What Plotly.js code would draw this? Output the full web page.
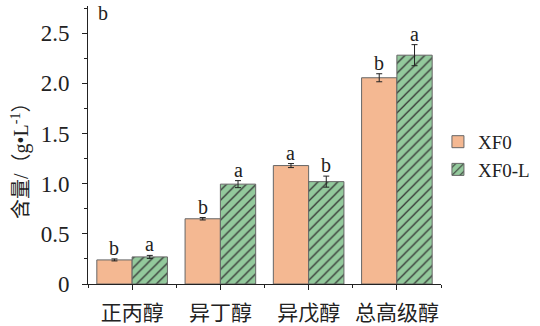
<!DOCTYPE html>
<html><head><meta charset="utf-8">
<script src="https://cdn.plot.ly/plotly-3.0.1.min.js"></script>
<style>html,body{margin:0;padding:0;background:#fff}#chart{width:540px;height:326px}</style>
</head><body><div id="chart"></div>
<script>
const categories = ['正丙醇', '异丁醇', '异戊醇', '总高级醇'];
const seriesNames = ['XF0', 'XF0-L'];
const xf0 = [0.24, 0.65, 1.18, 2.055];
const xf0Err = [0.01, 0.012, 0.02, 0.04];
const xf0L = [0.27, 0.995, 1.02, 2.28];
const xf0LErr = [0.015, 0.035, 0.055, 0.105];
const xf0Letters = ['b', 'b', 'a', 'b'];
const xf0LLetters = ['a', 'a', 'b', 'a'];
const yTickVals = [0, 0.5, 1.0, 1.5, 2.0, 2.5];
const yTickText = ['0', '0.5', '1.0', '1.5', '2.0', '2.5'];

const FONT = 'Liberation Serif, Times New Roman, Noto Sans CJK SC, serif';
const xs = categories.map((_, i) => i);

const traces = [
  {
    type: 'bar', name: seriesNames[0], x: xs, y: xf0,
    marker: {color: '#F4B892', line: {color: '#666', width: 1}},
    error_y: {type: 'data', array: xf0Err, visible: true, color: '#222', thickness: 1, width: 3}
  },
  {
    type: 'bar', name: seriesNames[1], x: xs, y: xf0L,
    marker: {color: '#93C99C', line: {color: '#666', width: 1},
      pattern: {shape: '/', fgcolor: '#333', bgcolor: '#93C99C', fillmode: 'replace', size: 7, solidity: 0.18}},
    error_y: {type: 'data', array: xf0LErr, visible: true, color: '#222', thickness: 1, width: 3}
  }
];

const annotations = [];
xs.forEach((x, i) => {
  annotations.push({x: x - 0.2, y: xf0[i] + xf0Err[i], xref: 'x', yref: 'y', text: xf0Letters[i],
    showarrow: false, yanchor: 'bottom', yshift: -2, font: {family: FONT, size: 20, color: '#222'}});
  annotations.push({x: x + 0.2, y: xf0L[i] + xf0LErr[i], xref: 'x', yref: 'y', text: xf0LLetters[i],
    showarrow: false, yanchor: 'bottom', yshift: -2, font: {family: FONT, size: 20, color: '#222'}});
});
annotations.push({x: 0.042, y: 1.02, xref: 'paper', yref: 'paper', text: 'b', showarrow: false,
  xanchor: 'center', yanchor: 'top', font: {family: FONT, size: 20, color: '#222'}});
annotations.push({x: -0.193, y: 0.46, xref: 'paper', yref: 'paper', text: '含量/（g•L<sup>-1</sup>）',
  showarrow: false, textangle: -90, xanchor: 'center', yanchor: 'middle',
  font: {family: FONT, size: 20, color: '#222'}});

const layout = {
  width: 540, height: 326,
  margin: {l: 88, r: 99, t: 6, b: 42, autoexpand: false},
  paper_bgcolor: '#fff', plot_bgcolor: '#fff',
  barmode: 'group', bargap: 0.2, bargroupgap: 0,
  font: {family: FONT, size: 20, color: '#222'},
  showlegend: true,
  legend: {xref: 'container', yref: 'container', x: 0.811, y: 0.522, xanchor: 'left', yanchor: 'middle',
    bgcolor: 'rgba(0,0,0,0)', borderwidth: 0,
    font: {family: FONT, size: 19, color: '#222'}, tracegroupgap: 0, itemwidth: 30},
  xaxis: {
    range: [-0.5, 3.5], tickvals: xs, ticktext: categories,
    showline: true, linecolor: '#222', linewidth: 1, showgrid: false, zeroline: false,
    ticks: 'outside', ticklen: 5, tickcolor: '#222', ticklabelstandoff: 5,
    tickfont: {family: FONT, size: 21, color: '#222'},
    minor: {tickmode: 'linear', tick0: 0.5, dtick: 1, ticks: 'outside', ticklen: 3, tickcolor: '#222', showgrid: false}
  },
  yaxis: {
    range: [0, 2.77], tickvals: yTickVals, ticktext: yTickText,
    showline: true, linecolor: '#222', linewidth: 1, showgrid: false, zeroline: false,
    ticks: 'outside', ticklen: 5, tickcolor: '#222', ticklabelstandoff: 8,
    tickfont: {family: FONT, size: 23, color: '#222'},
    minor: {tickmode: 'linear', tick0: 0.25, dtick: 0.5, ticks: 'outside', ticklen: 3, tickcolor: '#222', showgrid: false}
  },
  annotations: annotations
};

Plotly.newPlot('chart', traces, layout, {displayModeBar: false, staticPlot: true});
</script></body></html>
